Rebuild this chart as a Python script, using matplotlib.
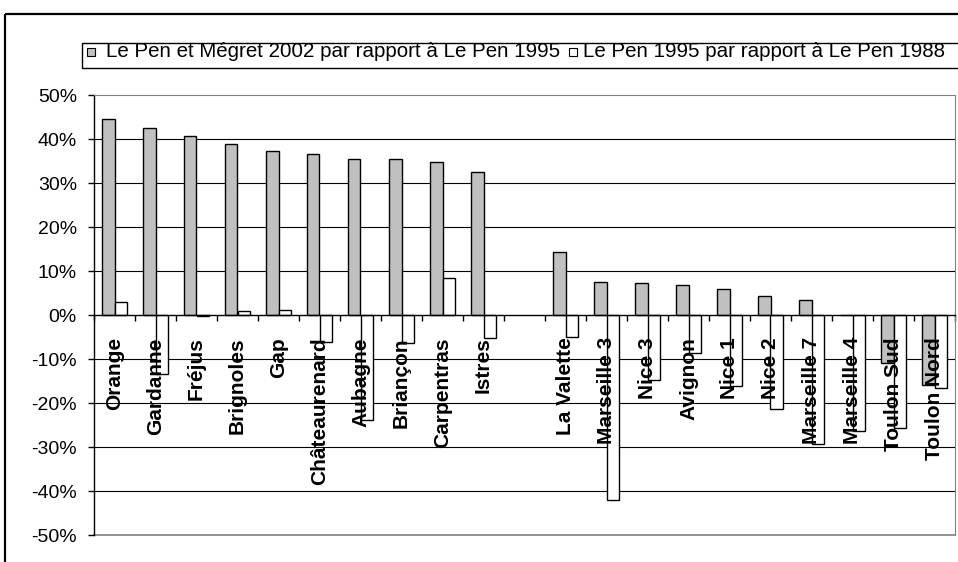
import matplotlib
matplotlib.use('Agg')
import matplotlib.pyplot as plt
from matplotlib.patches import Rectangle
from matplotlib.ticker import FuncFormatter, FixedLocator
import numpy as np

plt.rcParams['font.family'] = ['Liberation Sans', 'DejaVu Sans']

# communes (one empty slot between Istres and La Valette)
communes = ['Orange', 'Gardanne', 'Fréjus', 'Brignoles', 'Gap', 'Châteaurenard',
            'Aubagne', 'Briançon', 'Carpentras', 'Istres', '',
            'La Valette', 'Marseille 3', 'Nice 3', 'Avignon', 'Nice 1', 'Nice 2',
            'Marseille 7', 'Marseille 4', 'Toulon Sud', 'Toulon Nord']

# % change
evol_2002_1995 = [44.5, 42.4, 40.6, 38.8, 37.3, 36.5, 35.5, 35.5, 34.8, 32.6, np.nan,
                  14.4, 7.6, 7.3, 6.9, 5.8, 4.4, 3.3, 0.0, -10.8, -15.9]
evol_1995_1988 = [3.0, -13.4, -0.3, 0.8, 1.2, -6.2, -23.9, -6.4, 8.3, -5.3, np.nan,
                  -5.0, -42.1, -14.8, -8.7, -16.2, -21.4, -29.3, -26.3, -25.6, -16.6]

legend_labels = ['Le Pen et Mégret 2002 par rapport à Le Pen 1995',
                 'Le Pen 1995 par rapport à Le Pen 1988']

W, H = 958, 562
fig = plt.figure(figsize=(W / 100, H / 100), dpi=100)

# plot area in pixels: x 94..955, y 95..535
ax = fig.add_axes([94 / W, 1 - 535 / H, (955 - 94) / W, (535 - 95) / H])

x = np.arange(len(communes))
bw = 0.30
ax.bar(x - bw / 2, evol_2002_1995, bw, color='#c0c0c0', edgecolor='black', linewidth=1.0, zorder=1)
ax.bar(x + bw / 2, evol_1995_1988, bw, color='white', edgecolor='black', linewidth=1.0, zorder=1)

ax.set_xlim(-0.5, len(communes) - 0.5)
ax.set_ylim(-50, 50)

# gridlines behind bars
for g in [-40, -30, -20, -10, 10, 20, 30, 40]:
    ax.axhline(g, color='black', lw=0.8, zorder=0.5)
ax.axhline(-50, color='#808080', lw=1.2, zorder=0.5, clip_on=False)

ax.spines['top'].set_color('#808080')
ax.spines['right'].set_color('#808080')
ax.spines['bottom'].set_position(('data', 0))
ax.spines['bottom'].set_linewidth(1.0)
ax.spines['left'].set_linewidth(1.0)

ax.yaxis.set_major_locator(FixedLocator(np.arange(-50, 51, 10)))
ax.yaxis.set_major_formatter(FuncFormatter(lambda v, p: '%d%%' % v))
ax.tick_params(axis='y', direction='out', length=4.3, width=1.0, pad=8, labelsize=14)

ax.set_xticks(x)
ax.set_xticklabels(communes, rotation=90, fontweight='bold', fontsize=15)
ax.set_xticks(np.arange(len(communes) + 1) - 0.5, minor=True)
ax.tick_params(axis='x', which='major', length=0, pad=16)
ax.tick_params(axis='x', which='minor', direction='out', length=4, width=1.0)

# overlay for frame and legend, pixel coordinates
ov = fig.add_axes([0, 0, 1, 1], zorder=-1)
ov.set_xlim(0, W)
ov.set_ylim(H, 0)
ov.axis('off')
ov.add_patch(Rectangle((5, 14), W + 20, H + 20, fill=False, edgecolor='black', lw=1.6))
ov.add_patch(Rectangle((82, 43), W, 25, fill=False, edgecolor='black', lw=1.0))
ov.add_patch(Rectangle((87, 48), 8, 8, facecolor='#c0c0c0', edgecolor='black', lw=0.8))
ov.text(106, 57, legend_labels[0], fontsize=14.8, va='baseline', ha='left')
ov.add_patch(Rectangle((569, 48), 8, 8, facecolor='white', edgecolor='black', lw=0.8))
ov.text(583, 57, legend_labels[1], fontsize=14.8, va='baseline', ha='left')

fig.savefig('out.png', dpi=100)
